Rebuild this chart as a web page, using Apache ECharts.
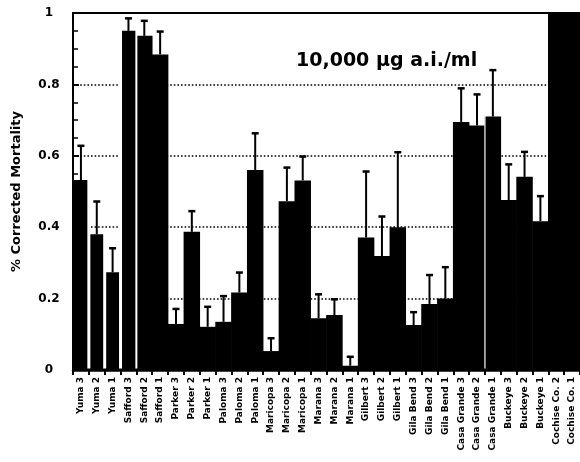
<!DOCTYPE html>
<html>
<head>
<meta charset="utf-8">
<script src="https://cdn.jsdelivr.net/npm/echarts@6/dist/echarts.min.js"></script>
<style>html,body{margin:0;padding:0;background:#fff;}#c{width:580px;height:462px;}</style>
</head>
<body>
<div id="c"></div>
<script>
const categories = ["Yuma 3","Yuma 2","Yuma 1","Safford 3","Safford 2","Safford 1","Parker 3","Parker 2","Parker 1","Paloma 3","Paloma 2","Paloma 1","Maricopa 3","Maricopa 2","Maricopa 1","Marana 3","Marana 2","Marana 1","Gilbert 3","Gilbert 2","Gilbert 1","Gila Bend 3","Gila Bend 2","Gila Bend 1","Casa Grande 3","Casa Grande 2","Casa Grande 1","Buckeye 3","Buckeye 2","Buckeye 1","Cochise Co. 2","Cochise Co. 1"];
const mortality = [0.532,0.38,0.274,0.95,0.936,0.884,0.129,0.387,0.121,0.135,0.217,0.56,0.053,0.473,0.531,0.145,0.154,0.012,0.371,0.319,0.4,0.126,0.185,0.2,0.695,0.685,0.71,0.476,0.541,0.417,1.0,1.0];
const errors = [0.096,0.092,0.067,0.035,0.042,0.064,0.042,0.058,0.056,0.072,0.056,0.103,0.036,0.094,0.067,0.067,0.044,0.025,0.185,0.111,0.21,0.036,0.081,0.088,0.094,0.087,0.13,0.1,0.07,0.07,0,0];
const yTicks = [0,0.2,0.4,0.6,0.8,1];
const titleText = "10,000 \u00b5g a.i./ml";
const yName = "% Corrected Mortality";

const FONT = "DejaVu Sans";
// white gaps separating some neighbouring bars: [left bar index, gap width px]
const gaps = [[0,3],[1,3],[2,3],[3,2],[25,1.2]];

const chart = echarts.init(document.getElementById('c'), null, {renderer:'canvas'});
const errData = mortality.map((v,i) => [i, v, v + errors[i]]);
const gapData = gaps.map(g => [g[0], Math.max(mortality[g[0]], mortality[g[0]+1]), g[1]]);

chart.setOption({
  animation:false,
  backgroundColor:'#fff',
  title:{text:titleText, left:291, top:47, textStyle:{fontFamily:FONT, fontWeight:'bold', fontSize:19, color:'#000'}},
  grid:{left:73, right:0, top:13, bottom:92, containLabel:false},
  xAxis:[{
    type:'category', data:categories, position:'bottom',
    axisLine:{lineStyle:{color:'#000', width:2.5}},
    axisTick:{show:true, length:5, lineStyle:{color:'#000', width:2}},
    axisLabel:{interval:0, rotate:90, margin:7, fontFamily:FONT, fontWeight:'bold', fontSize:9, color:'#000'},
    splitLine:{show:false}
  },{
    type:'category', data:categories, position:'top',
    axisLine:{lineStyle:{color:'#000', width:2}},
    axisTick:{show:false}, axisLabel:{show:false}, splitLine:{show:false}
  }],
  yAxis:{
    type:'value', min:0, max:1, interval:0.2,
    name:yName, nameLocation:'middle', nameRotate:90, nameGap:50,
    nameTextStyle:{fontFamily:FONT, fontWeight:'bold', fontSize:13, color:'#000'},
    axisLine:{show:true, lineStyle:{color:'#000', width:2}},
    axisTick:{show:true, inside:true, length:6, lineStyle:{color:'#000', width:2}},
    minorTick:{show:true, splitNumber:4, length:5, lineStyle:{color:'#000', width:1.5}},
    axisLabel:{margin:24, align:'center', fontFamily:FONT, fontWeight:'bold', fontSize:12, color:'#000',
      formatter:v => { const t = yTicks.find(x => Math.abs(x - v) < 1e-9); return t === undefined ? '' : String(t); }},
    splitLine:{show:true, lineStyle:{color:'#000', width:1.6, type:[1.6,2]}}
  },
  series:[{
    type:'bar', data:mortality, barWidth:'104%', xAxisIndex:0,
    itemStyle:{color:'#000'}, z:3
  },{
    type:'custom', data:gapData, xAxisIndex:0, z:4, silent:true,
    renderItem:(params, api) => {
      const i = api.value(0), top = api.value(1), w = api.value(2);
      const a = api.coord([i, top]), b = api.coord([i + 1, 0]);
      const x = (a[0] + b[0]) / 2;
      return {type:'rect', shape:{x:x - w/2, y:a[1] - 1, width:w, height:b[1] - a[1] - 0.5}, style:{fill:'#fff'}};
    }
  },{
    type:'custom', data:errData, xAxisIndex:0, z:5,
    renderItem:(params, api) => {
      const i = api.value(0), v = api.value(1), top = api.value(2);
      if (top - v <= 0) return null;
      const p0 = api.coord([i, v]), p1 = api.coord([i, top]);
      const hw = 3.5;
      return {type:'group', children:[
        {type:'line', shape:{x1:p0[0], y1:p0[1], x2:p1[0], y2:p1[1]}, style:{stroke:'#000', lineWidth:2}},
        {type:'line', shape:{x1:p1[0]-hw, y1:p1[1], x2:p1[0]+hw, y2:p1[1]}, style:{stroke:'#000', lineWidth:2.5}}
      ]};
    }
  }]
});
</script>
</body>
</html>
